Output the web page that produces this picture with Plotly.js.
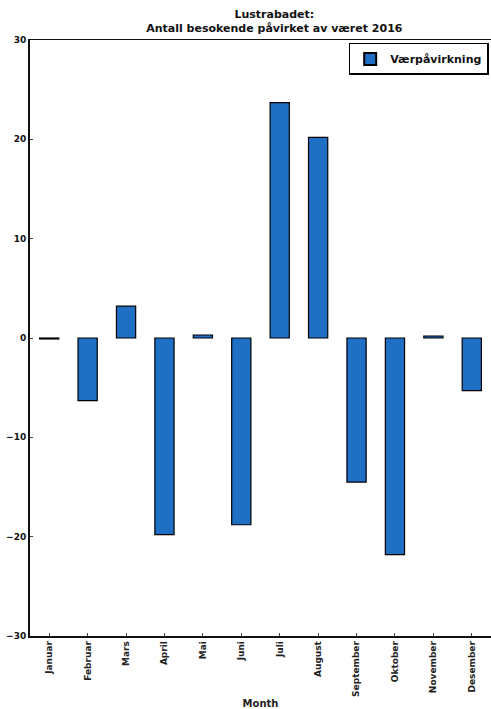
<!DOCTYPE html>
<html>
<head>
<meta charset="utf-8">
<script src="https://cdn.plot.ly/plotly-3.0.1.min.js"></script>
<style>html,body{margin:0;padding:0;background:#fff;}#chart{width:491px;height:709px;}</style>
</head>
<body>
<div id="chart"></div>
<script>
const months = ["Januar","Februar","Mars","April","Mai","Juni","Juli","August","September","Oktober","November","Desember"];
const values = [-0.1, -6.3, 3.2, -19.8, 0.3, -18.8, 23.7, 20.2, -14.5, -21.8, 0.2, -5.3];
const yTicks = [30, 20, 10, 0, -10, -20, -30];
const seriesName = "Værpåvirkning";
const titleText = "Lustrabadet:<br>Antall besokende påvirket av været 2016";
const xTitle = "Month";

const fam = "DejaVu Sans, sans-serif";
const trace = {
  type: "bar",
  x: months,
  y: values,
  name: seriesName,
  width: 0.5,
  marker: {color: "#1f6fc4", line: {color: "#000", width: 1.2}},
  showlegend: true
};
const layout = {
  width: 491, height: 709,
  margin: {l: 30, r: 0, t: 40, b: 73},
  paper_bgcolor: "#fff", plot_bgcolor: "#fff",
  title: {text: titleText, font: {family: fam, size: 11, color: "#111", weight: "bold"},
          x: 0.53, xanchor: "center", xref: "paper", yref: "paper", y: 1, yanchor: "bottom", pad: {b: 22}},
  showlegend: true,
  legend: {x: 0.995, xanchor: "right", y: 0.995, yanchor: "top", bordercolor: "#000", borderwidth: 1.5, bgcolor: "#fff",
           font: {family: fam, size: 11, color: "#111", weight: "bold"}, tracegroupgap: 0, itemsizing: "constant"},
  xaxis: {
    type: "category", range: [-0.5, 11.5],
    tickangle: -90, ticks: "inside", ticklen: 3, tickcolor: "#444",
    showline: true, linecolor: "#111", linewidth: 1.5, mirror: true,
    showgrid: false, zeroline: false,
    tickfont: {family: fam, size: 9, color: "#222", weight: "bold"},
    title: {text: xTitle, font: {family: fam, size: 10, color: "#222", weight: "bold"}, standoff: 4}
  },
  yaxis: {
    range: [-30, 30], tickvals: yTicks, ticktext: yTicks.map(v => v < 0 ? "\u2212" + Math.abs(v) : String(v)),
    ticks: "inside", ticklen: 3, tickcolor: "#444",
    showline: true, linecolor: "#111", linewidth: 2, mirror: true,
    showgrid: false, zeroline: false,
    tickfont: {family: fam, size: 9, color: "#111", weight: "bold"}
  },
  bargap: 0.5
};
Plotly.newPlot("chart", [trace], layout, {displayModeBar: false, staticPlot: true});
</script>
</body>
</html>
